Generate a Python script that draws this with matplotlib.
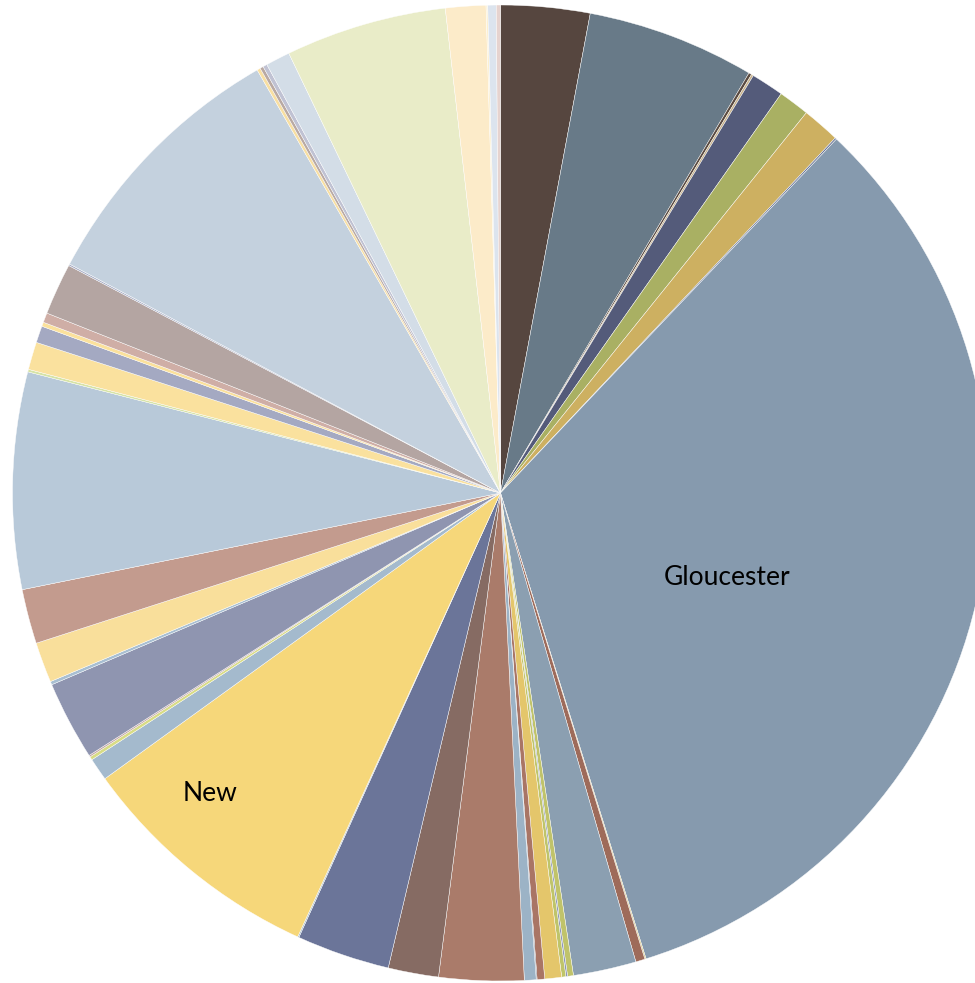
import numpy as np
import matplotlib
matplotlib.use("Agg")
import matplotlib.pyplot as plt

# wedge sizes (degrees of the circle), clockwise from 12 o'clock
sizes = [10.6, 20.0, 0.35, 0.25, 3.9, 3.7, 4.5, 0.2, 119.1, 0.15,
         1.1, 7.5, 0.7, 0.2, 0.5, 2.0, 0.9, 0.1, 1.4, 10.1,
         6.0, 11.1, 0.15, 29.6, 2.7, 0.4, 0.2, 9.4, 0.4, 4.8,
         6.5, 25.8, 0.3, 3.3, 2.0, 0.5, 1.15, 6.15, 0.2, 32.1,
         0.4, 0.4, 0.5, 2.9, 19.2, 4.8, 0.2, 1.0, 0.5]

labels = [""] * len(sizes)
labels[8] = "Gloucester"
labels[23] = "New"

colors = ["#56463f", "#687a88", "#5a4a40", "#c8b28a", "#545b7a", "#a9b063", "#cdb061", "#6a7598", "#869aae", "#d9c98a",
          "#9e6b5a", "#8b9fb1", "#c0c36a", "#8c95b8", "#bfc46a", "#e4c66b", "#a97565", "#5f6478", "#9cb3c6", "#aa7b6a",
          "#866b63", "#6b7599", "#a1b8cc", "#f6d77a", "#a4bacd", "#d8dc85", "#c4a5a5", "#8f95b0", "#a8bfd2", "#f9df9b",
          "#c39b8e", "#b8c9d9", "#d6e3a6", "#fae19e", "#a4a9c2", "#fbe19c", "#cfaea6", "#b4a5a2", "#aab0c8", "#c4d1de",
          "#f8dfa2", "#b9a9a3", "#c0c2d3", "#d3dde7", "#e9ecc8", "#fcebc9", "#fcf0d0", "#dce4ee", "#e6d3cf"]

# label placement: (fraction of radius, clockwise shift from wedge middle in degrees)
label_place = {"Gloucester": (0.495, 7.3), "New": (0.856, 4.7)}

W, H = 975, 983
cx, cy, R = 500.5, 493, 488

fig = plt.figure(figsize=(W / 100, H / 100), dpi=100)
ax = fig.add_axes([(cx - R) / W, (H - cy - R) / H, 2 * R / W, 2 * R / H])

wedges, _ = ax.pie(sizes, colors=colors, startangle=90, counterclock=False,
                   wedgeprops=dict(edgecolor="white", linewidth=0.3))

for w, lab in zip(wedges, labels):
    if not lab:
        continue
    d, shift = label_place[lab]
    mid = np.deg2rad((w.theta1 + w.theta2) / 2 - shift)
    ax.text(d * np.cos(mid), d * np.sin(mid), lab, ha="center", va="center",
            fontsize=19, family=["Lato", "DejaVu Sans"], color="black")

ax.set_xlim(-1, 1)
ax.set_ylim(-1, 1)
ax.axis("off")
fig.savefig("out.png", dpi=100)
